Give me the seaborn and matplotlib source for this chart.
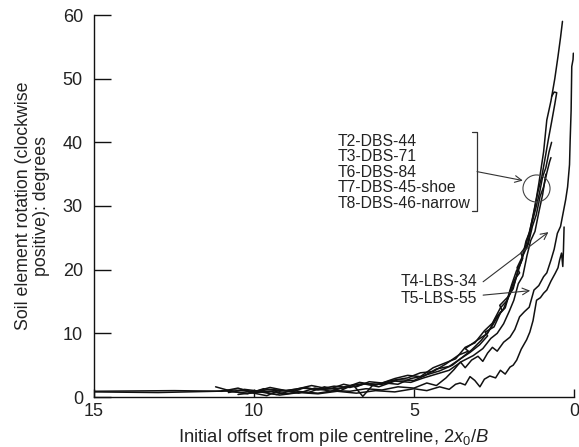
import numpy as np
import pandas as pd
import matplotlib
matplotlib.use("Agg")
import matplotlib.pyplot as plt
import seaborn as sns

# Soil element rotation vs. initial offset from the pile centreline
tests = ["T2-DBS-44", "T3-DBS-71", "T6-DBS-84", "T7-DBS-45-shoe",
         "T8-DBS-46-narrow", "T4-LBS-34", "T5-LBS-55"]

t2_x = [15.0, 13.0, 11.2, 10.6, 10.0, 9.5, 9.0, 8.5, 8.0, 7.5, 7.0, 6.5, 6.0, 5.5, 5.0,
        4.6, 4.2, 3.8, 3.5, 3.2, 2.9, 2.6, 2.4, 2.2, 2.0, 1.85, 1.7, 1.55, 1.4, 1.25,
        1.1, 0.95, 0.85, 0.72, 0.6, 0.5, 0.42, 0.36]
t2_y = [0.8, 0.7, 0.9, 1.1, 0.8, 1.2, 1.0, 1.4, 1.2, 1.7, 1.5, 2.1, 2.0, 2.7, 2.6,
        3.5, 4.1, 5.0, 6.2, 7.4, 8.9, 10.8, 12.5, 13.9, 16.2, 18.0, 20.5, 23.0, 25.8, 29.0,
        33.5, 38.5, 43.5, 46.5, 50.0, 53.5, 56.5, 59.0]

t3_x = [15.0, 12.5, 11.0, 10.5, 10.0, 9.6, 9.2, 8.8, 8.4, 8.0, 7.6, 7.2, 6.8, 6.4, 6.0,
        5.6, 5.2, 4.8, 4.4, 4.0, 3.7, 3.4, 3.1, 2.8, 2.55, 2.3, 2.1, 1.95, 1.8, 1.65,
        1.5, 1.38, 1.25, 1.12, 1.0, 0.9, 0.8, 0.7, 0.6, 0.54, 0.62, 0.7]
t3_y = [0.9, 1.0, 0.9, 1.4, 0.6, 0.2, 1.1, 0.8, 1.5, 1.1, 1.3, 2.0, 1.6, 2.4, 2.2,
        2.9, 3.4, 3.2, 4.6, 5.4, 6.0, 7.8, 8.5, 10.4, 11.6, 14.0, 15.1, 17.6, 19.8, 21.2,
        24.5, 26.0, 29.3, 32.4, 34.8, 37.6, 40.5, 43.2, 46.0, 47.8, 47.9, 47.2]

t6_x = [11.2, 10.7, 10.2, 9.7, 9.2, 8.7, 8.2, 7.7, 7.2, 6.7, 6.2, 5.7, 5.2, 4.8, 4.4,
        4.0, 3.6, 3.3, 3.4, 3.0, 2.7, 2.45, 2.25, 2.32, 2.05, 1.9, 1.75, 1.6, 1.66, 1.45,
        1.32, 1.2, 1.08, 0.98, 0.88, 0.78, 0.7]
t6_y = [1.6, 0.9, 0.5, 1.3, 0.9, 1.2, 1.8, 1.3, 1.4, 2.3, 1.9, 2.6, 3.0, 3.8, 4.0,
        5.2, 6.6, 7.2, 7.6, 9.0, 10.0, 12.4, 13.6, 14.4, 15.8, 17.0, 20.0, 21.8, 22.6, 24.0,
        27.2, 29.5, 32.0, 34.6, 36.0, 38.5, 40.0]

t7_x = [10.8, 10.3, 9.8, 9.3, 8.8, 8.3, 7.8, 7.3, 6.9, 6.6, 6.3, 5.9, 5.5, 5.1, 4.7,
        4.3, 3.9, 3.55, 3.25, 2.95, 2.7, 2.78, 2.5, 2.3, 2.15, 2.0, 1.85, 1.7, 1.78, 1.56,
        1.43, 1.3, 1.18, 1.06, 0.95, 0.85, 0.76, 0.72]
t7_y = [0.7, 1.2, 0.9, 0.4, 1.0, 0.7, 1.6, 1.0, 1.9, 0.1, 1.8, 2.2, 2.0, 2.9, 3.3,
        4.4, 4.8, 6.0, 7.0, 8.2, 9.6, 10.2, 11.0, 13.2, 14.0, 16.6, 18.5, 19.5, 20.3, 22.6,
        24.0, 26.8, 28.6, 31.5, 33.0, 35.2, 37.0, 37.6]

t8_x = [10.4, 10.0, 9.5, 9.0, 8.6, 8.1, 7.6, 7.1, 6.6, 6.1, 5.6, 5.1, 4.7, 4.3, 3.9,
        3.5, 3.15, 2.85, 2.6, 2.4, 2.2, 2.02, 1.88, 1.74, 1.6, 1.47, 1.35, 1.22, 1.1, 0.98,
        0.88]
t8_y = [1.2, 0.8, 1.5, 1.0, 0.6, 1.4, 0.9, 1.7, 2.1, 1.6, 2.5, 2.3, 3.0, 3.6, 4.2,
        5.6, 6.5, 7.6, 9.2, 10.0, 11.5, 13.5, 15.2, 17.8, 19.0, 22.2, 24.6, 26.0, 29.0, 31.8,
        35.0]

t4_x = [11.0, 10.2, 9.5, 9.0, 8.5, 8.0, 7.5, 7.0, 6.5, 6.0, 5.5, 5.0, 4.6, 4.3, 4.0,
        3.75, 3.55, 3.4, 3.2, 3.0, 2.85, 2.7, 2.55, 2.4, 2.2, 2.0, 1.85, 1.7, 1.55, 1.4,
        1.25, 1.1, 0.95, 0.85, 0.72, 0.62, 0.52, 0.42, 0.34, 0.26, 0.2, 0.14, 0.12, 0.09,
        0.07, 0.03, 0.02]
t4_y = [1.0, 0.6, 0.9, 0.5, 0.8, 0.6, 1.0, 0.9, 1.3, 1.1, 1.6, 1.4, 2.2, 1.8, 3.0,
        4.3, 5.5, 4.6, 5.8, 6.4, 5.6, 6.9, 7.8, 7.2, 8.6, 9.4, 10.6, 12.6, 13.4, 14.1,
        16.8, 17.5, 18.9, 19.5, 21.5, 23.2, 25.7, 26.8, 28.9, 31.0, 33.0, 36.5, 40.3, 45.0,
        51.9, 53.0, 54.0]

t5_x = [10.5, 9.8, 9.2, 8.6, 8.0, 7.4, 6.8, 6.2, 5.6, 5.0, 4.6, 4.2, 3.9, 3.7, 3.56,
        3.4, 3.25, 3.1, 2.94, 2.8, 2.63, 2.45, 2.3, 2.15, 2.0, 1.9, 1.79, 1.65, 1.48, 1.38,
        1.28, 1.17, 1.05, 0.95, 0.85, 0.72, 0.59, 0.5, 0.45, 0.39, 0.35, 0.33, 0.31]
t5_y = [0.4, 0.8, 0.3, 0.7, 0.5, 0.9, 0.6, 1.0, 0.8, 1.3, 1.0, 1.6, 1.2, 2.0, 2.2,
        1.9, 3.2, 2.6, 1.6, 2.8, 3.3, 3.0, 4.2, 3.6, 4.7, 5.0, 5.8, 7.5, 9.0, 10.2,
        12.0, 15.2, 15.6, 16.3, 16.8, 18.2, 19.4, 20.3, 21.5, 22.6, 20.5, 23.0, 26.7]

xs = [t2_x, t3_x, t6_x, t7_x, t8_x, t4_x, t5_x]
ys = [t2_y, t3_y, t6_y, t7_y, t8_y, t4_y, t5_y]

frames = []
for name, x, y in zip(tests, xs, ys):
    frames.append(pd.DataFrame({"test": name, "offset": x, "rotation": y,
                                "step": np.arange(len(x))}))
df = pd.concat(frames, ignore_index=True)

x_ticks = [15, 10, 5, 0]
y_ticks = [0, 10, 20, 30, 40, 50, 60]
dbs_labels = tests[:5]

sns.set_style("ticks")
plt.rcParams["font.family"] = ["Liberation Sans", "DejaVu Sans"]
plt.rcParams["mathtext.fontset"] = "custom"
plt.rcParams["mathtext.rm"] = "Liberation Sans"
plt.rcParams["mathtext.it"] = "Liberation Sans:italic"

txt = "#222222"
fig = plt.figure(figsize=(5.79, 4.47), dpi=100)
ax = fig.add_axes([94 / 579, 50 / 447, 480 / 579, 382 / 447])

sns.lineplot(data=df, x="offset", y="rotation", units="test", estimator=None,
             sort=False, color="#111111", linewidth=1.1, legend=False, ax=ax)

ax.set_xlim(15, 0)
ax.set_ylim(0, 60)
ax.set_xticks(x_ticks)
ax.set_yticks(y_ticks)
sns.despine(ax=ax)
for s in ("left", "bottom"):
    ax.spines[s].set_linewidth(1.0)
    ax.spines[s].set_color("#111111")
ax.tick_params(axis="x", direction="in", length=6, width=1.0, pad=4,
               labelsize=13, colors="#111111", labelcolor=txt)
ax.tick_params(axis="y", direction="in", length=12, width=1.0, pad=8,
               labelsize=13, colors="#111111", labelcolor=txt)

ax.set_xlabel(r"Initial offset from pile centreline, 2$\mathit{x}_{\mathrm{0}}$/$\mathit{B}$",
              fontsize=13.3, color=txt, labelpad=5)
ax.set_ylabel("Soil element rotation (clockwise\npositive): degrees",
              fontsize=12.8, color=txt, labelpad=9, linespacing=1.1)

# Dense-sand test group with bracket and pointer to the circled bundle
ax.text(7.375, 35.3, "\n".join(dbs_labels), ha="left", va="center",
        fontsize=11.3, color=txt, linespacing=1.05)
ax.plot([3.19, 3.03, 3.03, 3.19], [41.7, 41.7, 29.2, 29.2], color="#333333", lw=0.9)
ax.annotate("", xy=(1.60, 34.0), xytext=(3.03, 35.4),
            arrowprops=dict(arrowstyle="->", color="#333333", lw=0.8,
                            mutation_scale=12, shrinkA=0, shrinkB=0))
ax.plot([1.19], [32.8], marker="o", markersize=19.5, markerfacecolor="none",
        markeredgecolor="#444444", markeredgewidth=0.8)

# Loose-sand test labels
ax.text(3.03, 18.2, tests[5], ha="right", va="center", fontsize=11.3, color=txt)
ax.text(3.03, 15.4, tests[6], ha="right", va="center", fontsize=11.3, color=txt)
ax.annotate("", xy=(0.80, 25.9), xytext=(2.84, 18.1),
            arrowprops=dict(arrowstyle="->", color="#333333", lw=0.8,
                            mutation_scale=12, shrinkA=0, shrinkB=0))
ax.annotate("", xy=(1.37, 16.7), xytext=(2.84, 16.0),
            arrowprops=dict(arrowstyle="->", color="#333333", lw=0.8,
                            mutation_scale=12, shrinkA=0, shrinkB=0))

fig.savefig("out.png", dpi=100)
